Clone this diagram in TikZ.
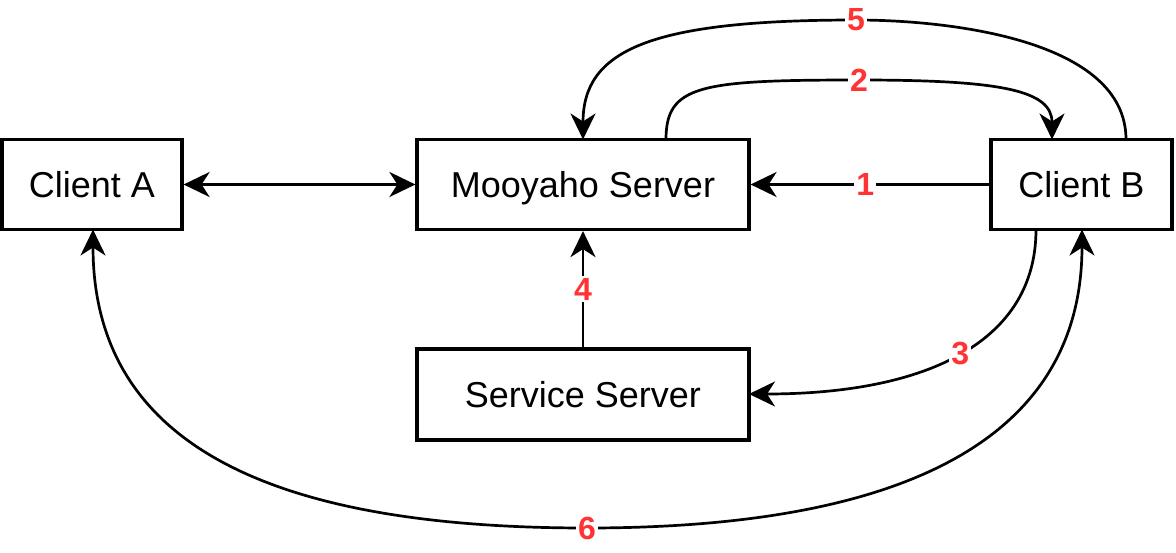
\documentclass[tikz,border=0pt]{standalone}
\usepackage{fontspec}
\setmainfont{Liberation Sans}
\usetikzlibrary{arrows.meta}
\definecolor{numred}{HTML}{FF3333}
\tikzset{
  box/.style={draw=black, line width=3.2pt, fill=white, inner sep=0pt,
    text height=25.5pt, text depth=0pt,
    font=\fontsize{36}{42}\selectfont},
  conn/.style={line width=2.7pt, draw=black},
  tip/.style={-{Stealth[length=26pt,width=25pt,inset=8pt]}},
  tips/.style={{Stealth[length=26pt,width=25pt,inset=8pt]}-{Stealth[length=26pt,width=25pt,inset=8pt]}},
  num/.style={fill=white, text=numred, inner sep=2pt,
    font=\fontsize{32}{38}\selectfont\bfseries}
}
\begin{document}
\begin{tikzpicture}[x=1pt,y=-1pt]
\useasboundingbox (0,0) rectangle (1176,552);
\node[box, minimum width=180pt, minimum height=90pt] (A) at (92,184.5) {Client A};
\node[box, minimum width=332pt, minimum height=90pt] (M) at (583,184.5) {Mooyaho Server};
\node[box, minimum width=181pt, minimum height=90pt] (B) at (1081.5,184.5) {Client B};
\node[box, minimum width=332pt, minimum height=91pt] (S) at (583,394.5) {Service Server};

\coordinate (Mn5) at (583,139.5);
\coordinate (Mn2) at (666,139.5);
\coordinate (Bn2) at (1052,139.5);
\coordinate (Bn5) at (1126,139.5);
\coordinate (Bs3) at (1036,229.5);
\coordinate (Bs6) at (1082,229.5);
\coordinate (As6) at (93,229.5);
\coordinate (Se3) at (749,394);
\coordinate (L6) at (587,528);

\draw[conn,tips] (A.east) -- (M.west);
\draw[conn,tip] (B.west) -- node[num, pos=0.52]{1} (M.east);
\draw[conn,tip] (S.north) -- node[num]{4} (M.south);
\draw[conn,tip] (Mn2) .. controls (666,85) and (700,80) .. (859,80)
  node[num]{2} .. controls (1000,80) and (1052,90) .. (Bn2);
\draw[conn,tip] (Bn5) .. controls (1126,40) and (950,20) .. (856,20)
  node[num]{5} .. controls (650,20) and (583,50) .. (Mn5);
\draw[conn,tip] (Bs3) .. controls (1036,340) and (930,394) .. node[num]{3} (Se3);
\draw[conn,tips] (As6) .. controls (93,460) and (300,528) .. (L6)
  .. controls (920,528) and (1082,430) .. (Bs6);
\node[num] (n6) at (L6) {6};
\end{tikzpicture}
\end{document}
